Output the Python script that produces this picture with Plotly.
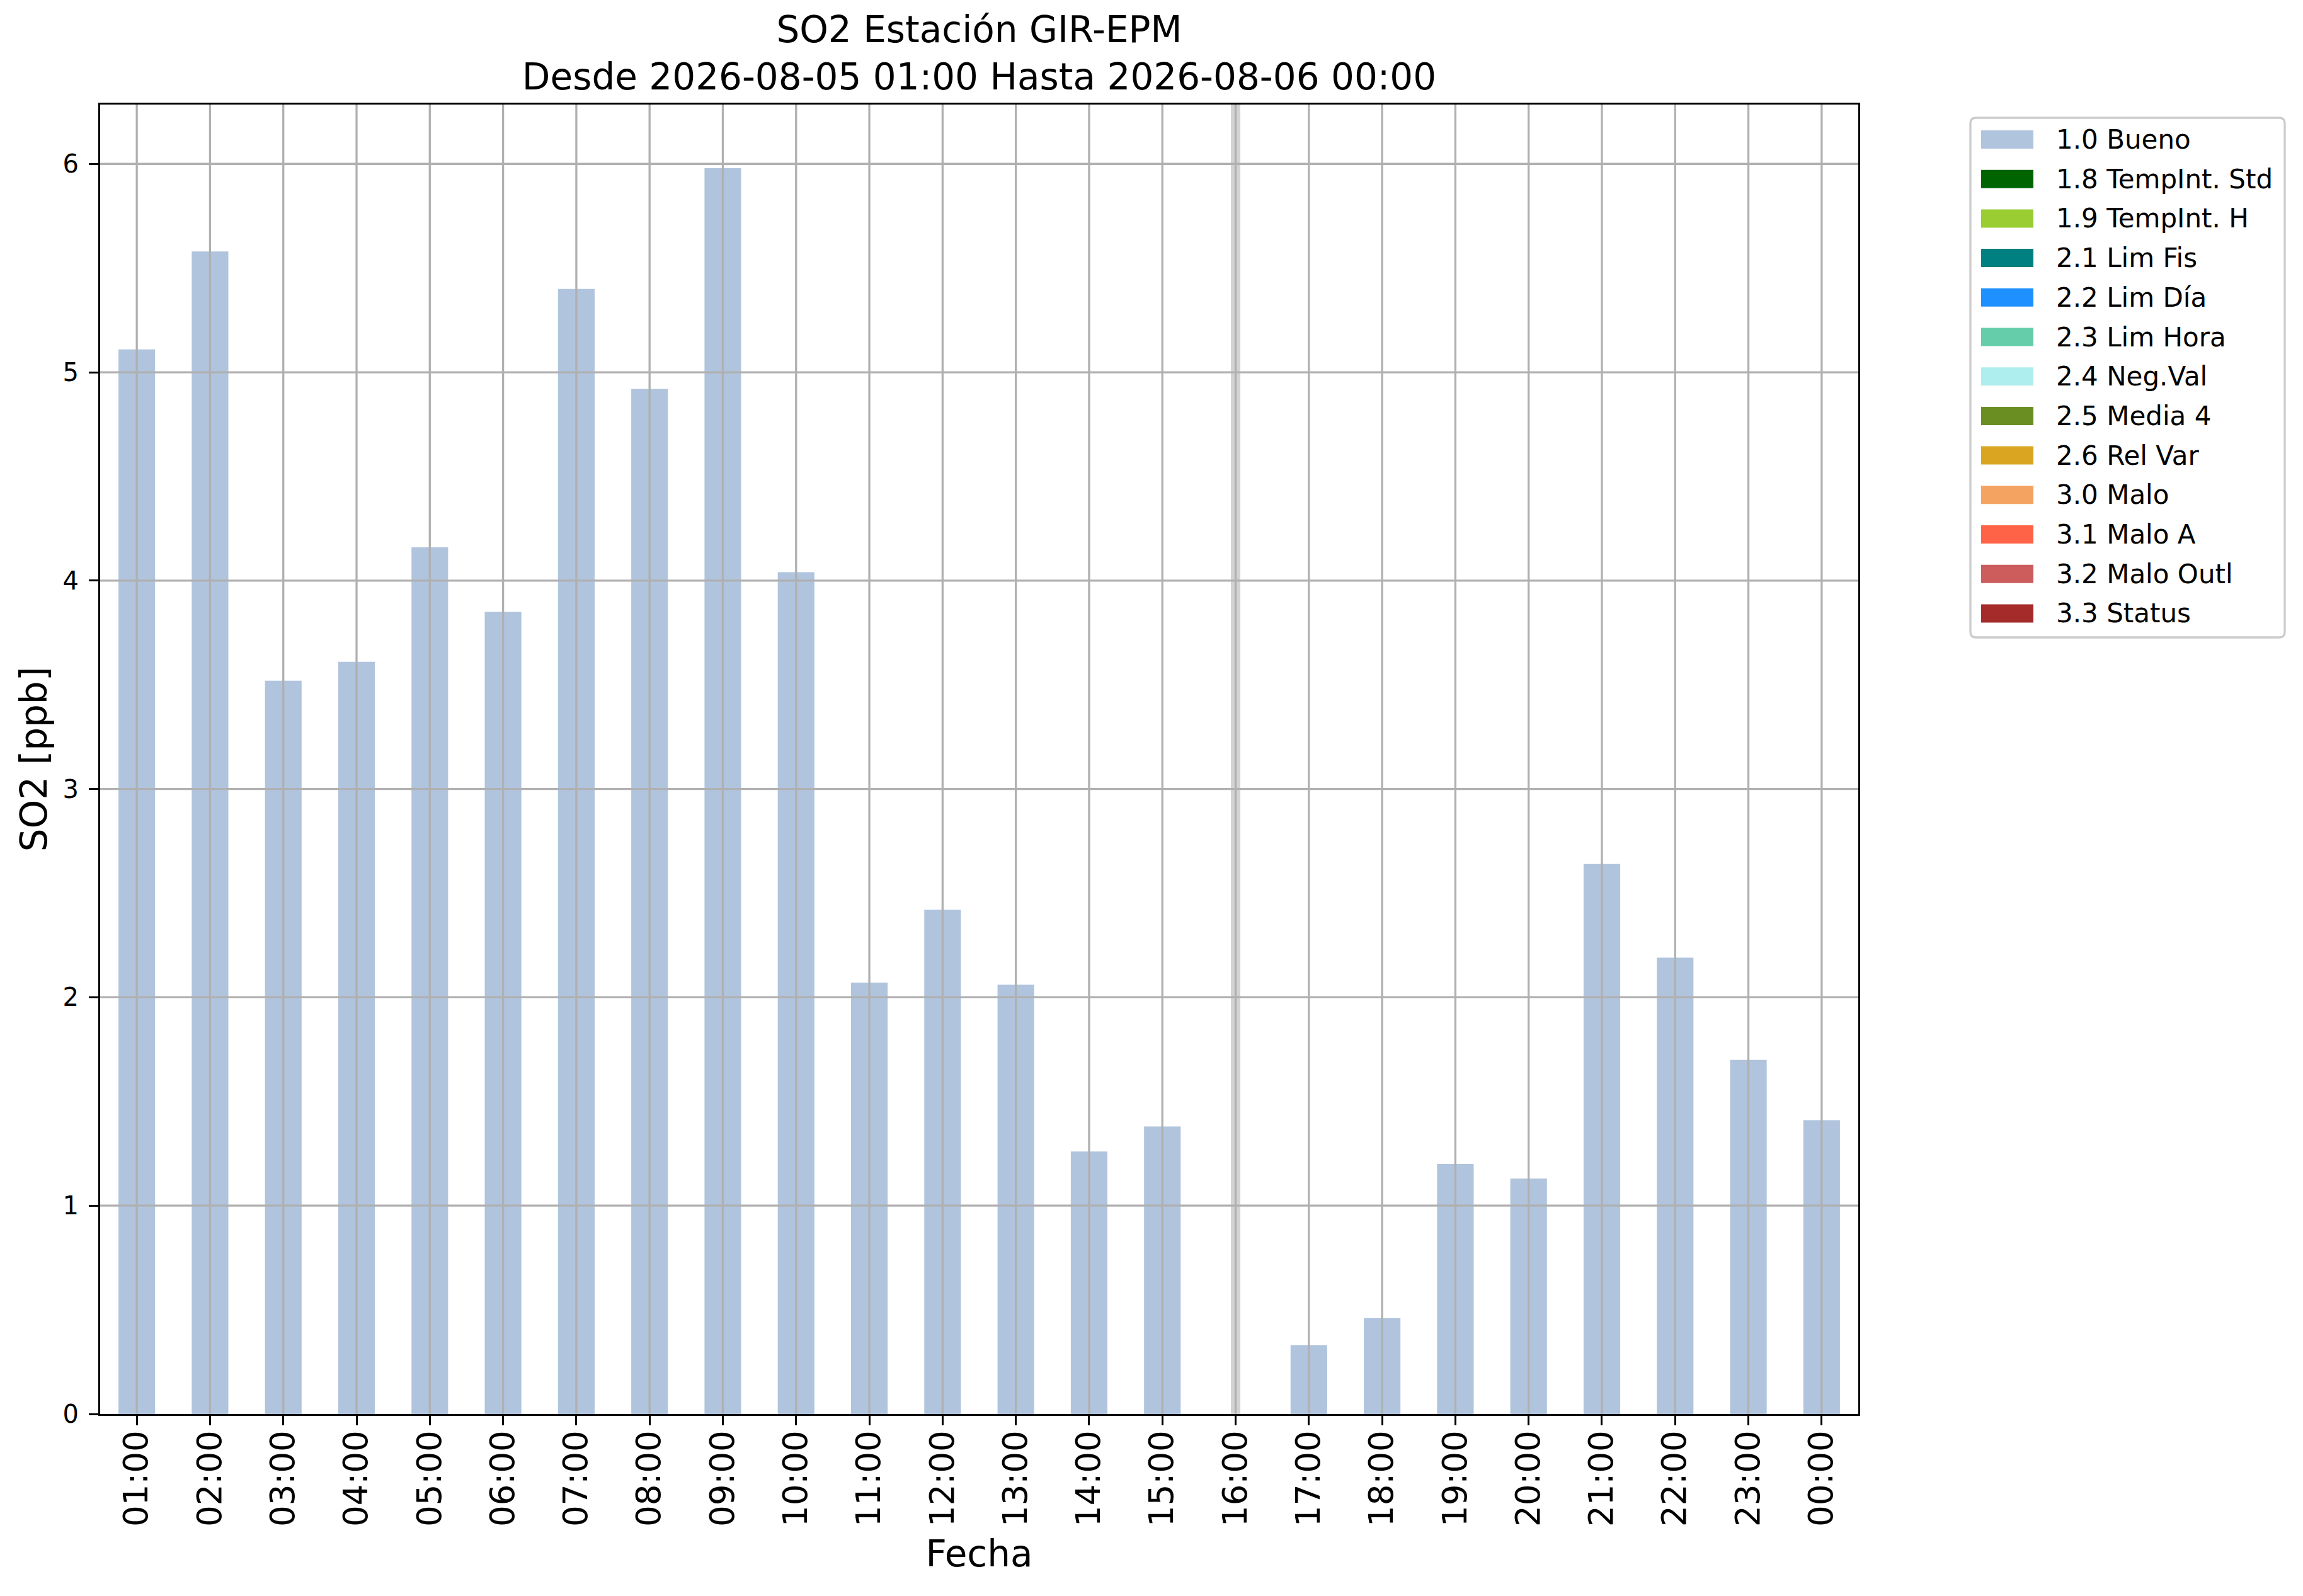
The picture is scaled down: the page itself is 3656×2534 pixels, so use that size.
import plotly.graph_objects as go

# ==== datos ====
horas = ["01:00", "02:00", "03:00", "04:00", "05:00", "06:00", "07:00", "08:00",
         "09:00", "10:00", "11:00", "12:00", "13:00", "14:00", "15:00", "16:00",
         "17:00", "18:00", "19:00", "20:00", "21:00", "22:00", "23:00", "00:00"]
so2_bueno = [5.11, 5.58, 3.52, 3.61, 4.16, 3.85, 5.40, 4.92, 5.98, 4.04, 2.07, 2.42,
             2.06, 1.26, 1.38, None, 0.33, 0.46, 1.20, 1.13, 2.64, 2.19, 1.70, 1.41]
hora_sin_dato = "16:00"
y_ticks = [0, 1, 2, 3, 4, 5, 6]

flags = ["1.0 Bueno", "1.8 TempInt. Std", "1.9 TempInt. H", "2.1 Lim Fis", "2.2 Lim Día",
         "2.3 Lim Hora", "2.4 Neg.Val", "2.5 Media 4", "2.6 Rel Var", "3.0 Malo",
         "3.1 Malo A", "3.2 Malo Outl", "3.3 Status"]
flag_colors = ["#B0C4DE", "#006400", "#9ACD32", "#008080", "#1E90FF", "#66CDAA", "#AFEEEE",
               "#6B8E23", "#DAA520", "#F4A460", "#FF6347", "#CD5C5C", "#A52A2A"]

# ==== geometria (pixeles de la pantalla) ====
W, H = 3656, 2534
OFF = 8                      # margen del <body>
FW, FH = W - 2 * OFF, H - 2 * OFF
L, R, T, B = 159, 2950, 166, 2245
FONT = "DejaVu Sans"
GRID = "#b0b0b0"


def px(x):
    return (x - L) / (R - L)


def py(y):
    return (B - y) / (B - T)


fig = go.Figure()
fig.add_trace(go.Bar(
    x=horas, y=so2_bueno, width=0.5,
    marker=dict(color=flag_colors[0], line=dict(width=0)),
    name=flags[0], showlegend=False,
))

shapes = []
# franja gris en la hora sin dato
shapes.append(dict(type="line", xref="x", yref="paper", x0=hora_sin_dato, x1=hora_sin_dato,
                   y0=0, y1=1, line=dict(color="#d3d3d3", width=15), layer="below"))
# rejilla encima de las barras (como matplotlib)
for h in horas:
    shapes.append(dict(type="line", xref="x", yref="paper", x0=h, x1=h, y0=0, y1=1,
                       line=dict(color=GRID, width=3.3), layer="above"))
for v in y_ticks[1:]:
    shapes.append(dict(type="line", xref="paper", yref="y", x0=0, x1=1, y0=v, y1=v,
                       line=dict(color=GRID, width=3.3), layer="above"))

# leyenda manual (caja redondeada)
bx0, bx1, by0, by1 = px(3128), px(3627), py(1012), py(187)
rx, ry = 9 / (R - L), 9 / (B - T)
path = (f"M{bx0 + rx},{by0} L{bx1 - rx},{by0} Q{bx1},{by0} {bx1},{by0 + ry} "
        f"L{bx1},{by1 - ry} Q{bx1},{by1} {bx1 - rx},{by1} L{bx0 + rx},{by1} "
        f"Q{bx0},{by1} {bx0},{by1 - ry} L{bx0},{by0 + ry} Q{bx0},{by0} {bx0 + rx},{by0} Z")
shapes.append(dict(type="path", xref="paper", yref="paper", path=path,
                   fillcolor="rgba(255,255,255,0.8)", line=dict(color="#cccccc", width=3.3)))

annotations = []
for i, (lab, col) in enumerate(zip(flags, flag_colors)):
    yc = 221.5 + i * 62.7
    shapes.append(dict(type="rect", xref="paper", yref="paper",
                       x0=px(3145), x1=px(3228), y0=py(yc + 14.5), y1=py(yc - 14.5),
                       fillcolor=col, line=dict(width=0)))
    annotations.append(dict(xref="paper", yref="paper", x=px(3262), y=py(yc),
                            xanchor="left", yanchor="middle", text=lab, showarrow=False,
                            font=dict(family=FONT, size=42, color="black")))

fig.update_layout(
    width=FW, height=FH,
    margin=dict(l=L - OFF, r=FW - (R - OFF), t=T - OFF, b=FH - (B - OFF)),
    paper_bgcolor="white", plot_bgcolor="white",
    font=dict(family=FONT, color="black"),
    title=dict(text="SO2 Estación GIR-EPM<br>Desde 2026-08-05 01:00 Hasta 2026-08-06 00:00",
               x=0.5, xref="paper", xanchor="center",
               y=1 - (67 - OFF) / FH, yref="container", yanchor="top",
               font=dict(family=FONT, size=58, color="black")),
    showlegend=False,
    shapes=shapes,
    annotations=annotations,
    bargap=0.5,
)

fig.update_xaxes(
    type="category", categoryorder="array", categoryarray=horas,
    range=[-0.5, len(horas) - 0.5],
    showgrid=False, zeroline=False,
    showline=True, linecolor="black", linewidth=3.3, mirror=True,
    ticks="outside", ticklen=15, tickwidth=3.3, tickcolor="black",
    tickangle=-90, tickfont=dict(family=FONT, size=53, color="black"),
    ticklabelstandoff=-13,
    title=dict(text="Fecha", font=dict(family=FONT, size=58, color="black"), standoff=24),
)
fig.update_yaxes(
    range=[0, 6.285], tickvals=y_ticks,
    showgrid=False, zeroline=False,
    showline=True, linecolor="black", linewidth=3.3, mirror=True,
    ticks="outside", ticklen=15, tickwidth=3.3, tickcolor="black",
    tickfont=dict(family=FONT, size=40, color="black"),
    ticklabelstandoff=8,
    title=dict(text="SO2 [ppb]", font=dict(family=FONT, size=58, color="black"), standoff=7),
)

fig.write_html("out.html")
